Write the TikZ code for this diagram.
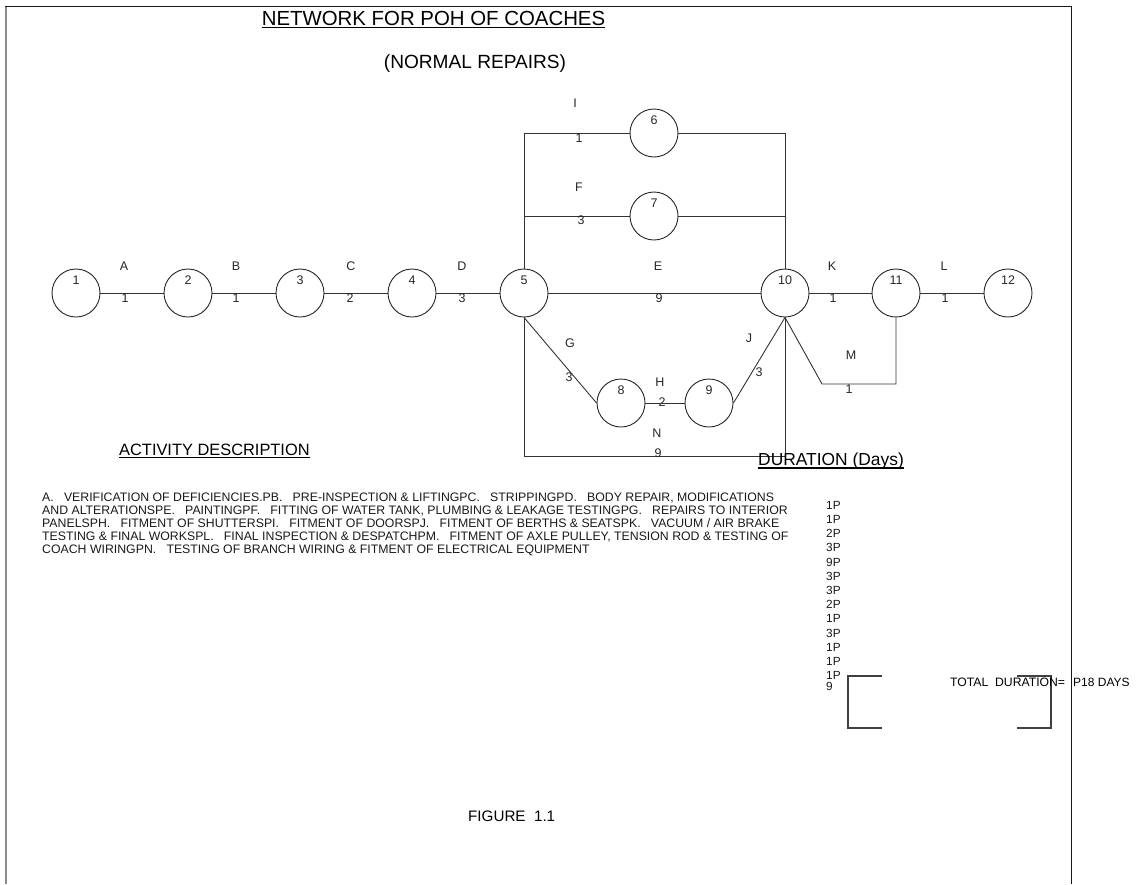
\documentclass[tikz,border=0pt]{standalone}
\usepackage{fontspec}
\setmainfont{Liberation Sans}
\newcommand{\mygap}{\hspace{0.83em}}
\newcommand{\fsz}[1]{\fontsize{#1}{#1}\selectfont}
\begin{document}
\frenchspacing
\begin{tikzpicture}[x=1pt,y=-1pt,
  ev/.style={circle,draw=black!85,line width=0.9pt,minimum size=48pt,inner sep=0pt},
  evnum/.style={inner sep=0pt,text=black!85,font=\fsz{12.5}},
  lbl/.style={inner sep=0pt,text=black!85,font=\fsz{12.5}},
  edge/.style={draw=black!80,line width=0.9pt},
  frame/.style={line width=1.6pt,draw=black!90},
  ul/.style={line width=1.7pt,draw=black},
  para/.style={inner sep=0pt,anchor=base west,text=black!90,font=\fsz{12.3}},
  dur/.style={inner sep=0pt,anchor=base west,text=black!90,font=\fsz{11.8}},
  br/.style={line width=1.1pt,draw=black!75}]
\useasboundingbox (0,0) rectangle (1138,884);
% frame
\draw[line width=2.2pt,draw=black!45] (6,5.5) -- (6,884);
\draw[frame] (5,6.5) -- (1071.5,6.5);
\draw[frame] (1071.5,5.7) -- (1071.5,884);
% titles
\node[inner sep=0pt,anchor=base,font=\fsz{20.4}] (title) at (433.5,25) {NETWORK FOR POH OF COACHES};
\draw[ul] ([yshift=-2.6pt]title.base west) -- ([yshift=-2.6pt]title.base east);
\node[inner sep=0pt,anchor=base,font=\fsz{19.1}] (sub) at (475,68) {(NORMAL REPAIRS)};
% events
\foreach \n/\x/\y in {1/76/293,2/188/293,3/300/293,4/412/293,5/524/293,10/785/293,11/896/293,12/1008/293,6/654/133,7/654/216,8/621/403,9/709/403}{
  \node[ev,label={[evnum,yshift=12.5pt]center:\n}] (n\n) at (\x,\y) {};
}
% activities
\draw[edge] (n1.east) -- (n2.west);
\draw[edge] (n2.east) -- (n3.west);
\draw[edge] (n3.east) -- (n4.west);
\draw[edge] (n4.east) -- (n5.west);
\draw[edge] (n5.east) -- (n10.west);
\draw[edge] (n10.east) -- (n11.west);
\draw[edge] (n11.east) -- (n12.west);
\draw[edge] (n5.north) |- (n6.west);
\draw[edge] (n6.east) -| (n10.north);
\draw[edge] (n5.north |- n7.west) -- (n7.west);
\draw[edge] (n7.east) -- (n10.north |- n7.east);
\draw[edge] (n5.south) -- (n8.west);
\draw[edge] (n8.east) -- (n9.west);
\draw[edge] (n9.east) -- (n10.south);
\coordinate (mc) at (822,384);
\draw[edge] (n10.south) -- (mc) -| (n11.south);
\coordinate (nc) at (524,456);
\draw[edge] (n5.south) -- (nc) -| (n10.south);
% activity labels
\foreach \t/\x/\y/\nm in {A/124/266/a,1/125/298/ad,B/236/266/b,1/236/298/bd,C/351/266/c,2/350/298/cd,D/462/266/d,3/462/298/dd,E/658/266/e,9/659/298/ed,K/832/266/k,1/833/298/kd,L/944/266/l,1/945/298/ld,I/575/103/i,1/579/138/id,F/579/187/f,3/581/220/fd,G/570/343/g,3/569/377/gd,H/660/382/h,2/662/402/hd,J/749/338/j,3/759/372/jd,M/851/355/m,1/849/389/md,N/657/433/nn,9/658/453/nd}{
  \node[lbl] (l\nm) at (\x,\y) {\t};
}
% activity description
\node[inner sep=0pt,anchor=base west,font=\fsz{16.4}] (acth) at (119,455) {ACTIVITY DESCRIPTION};
\draw[ul] ([yshift=-2.6pt]acth.base west) -- ([yshift=-2.6pt]acth.base east);
\node[para] (p1) at (42,501) {A.\mygap VERIFICATION OF DEFICIENCIES.PB.\mygap PRE-INSPECTION \& LIFTINGPC.\mygap STRIPPINGPD.\mygap BODY REPAIR, MODIFICATIONS};
\node[para] (p2) at (42,514) {AND ALTERATIONSPE.\mygap PAINTINGPF.\mygap FITTING OF WATER TANK, PLUMBING \& LEAKAGE TESTINGPG.\mygap REPAIRS TO INTERIOR};
\node[para] (p3) at (42,527) {PANELSPH.\mygap FITMENT OF SHUTTERSPI.\mygap FITMENT OF DOORSPJ.\mygap FITMENT OF BERTHS \& SEATSPK.\mygap VACUUM / AIR BRAKE};
\node[para] (p4) at (42,540) {TESTING \& FINAL WORKSPL.\mygap FINAL INSPECTION \& DESPATCHPM.\mygap FITMENT OF AXLE PULLEY, TENSION ROD \& TESTING OF};
\node[para] (p5) at (42,553) {COACH WIRINGPN.\mygap TESTING OF BRANCH WIRING \& FITMENT OF ELECTRICAL EQUIPMENT};
% durations
\node[inner sep=0pt,anchor=base west,font=\fsz{17.4}] (durh) at (758,465.5) {DURATION (Days)};
\draw[ul] ([yshift=-2.6pt]durh.base west) -- ([yshift=-2.6pt]durh.base east);
\foreach \v [count=\k from 0] in {1P,1P,2P,3P,9P,3P,3P,2P,1P,3P,1P,1P,1P}{
  \node[dur] (dv\k) at (826,509.2+14.2*\k) {\v};
}
\node[dur] (dlast) at (826,690) {9};
% total
\draw[br] (882,676) -- (848,676) -- (848,728) -- (882,728);
\draw[br] (1017,676) -- (1051,676) -- (1051,728) -- (1017,728);
\node[inner sep=0pt,anchor=base west,font=\fsz{12.2}] (tot) at (950,686) {TOTAL\ \ DURATION=};
\node[inner sep=0pt,anchor=base west,font=\fsz{12}] (totv) at (1073,686) {P18 DAYS};
% figure
\node[inner sep=0pt,anchor=base west,font=\fsz{15.2}] (fig) at (468,821) {FIGURE\ \ 1.1};
\end{tikzpicture}
\end{document}
